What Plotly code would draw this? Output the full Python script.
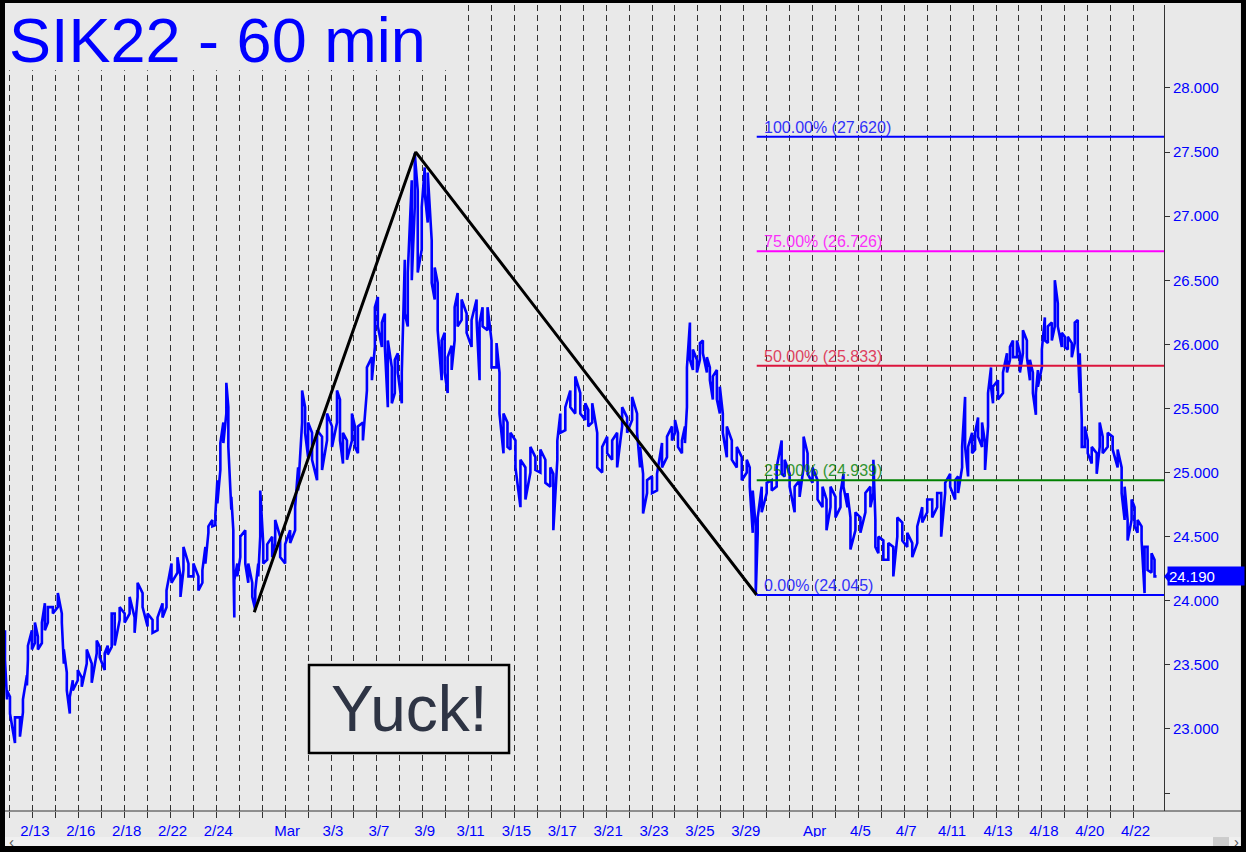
import plotly.graph_objects as go

# ---- data (hours since first session boundary, hi/lo of hourly trace) ----
hours = [-5, -3, 0, 5, 10, 13, 17, 18, 22, 25,
         28, 32, 35, 38, 43, 48, 52, 54, 57, 60,
         63, 68, 72, 77, 82, 87, 90, 95, 98, 102,
         105, 110, 115, 120, 125, 128, 133, 138, 143, 148,
         153, 157, 162, 168, 171, 174, 179, 184, 189, 193,
         196, 199, 203, 206, 208, 211, 214, 217, 219, 222,
         224, 225, 228, 231, 236, 239, 243, 246, 249, 251,
         254, 258, 263, 266, 271, 276, 281, 286, 289, 293,
         296, 299, 303, 308, 313, 318, 323, 328, 331, 334,
         338, 343, 346, 349, 354, 358, 363, 366, 369, 373,
         376, 379, 383, 386, 389, 393, 396, 399, 403, 406,
         409, 413, 416, 419, 423, 426, 429, 433, 436, 439,
         443, 446, 449, 453, 458, 463, 468, 471, 474, 479,
         483, 488, 491, 495, 499, 502, 507, 512, 517, 522,
         527, 532, 537, 542, 545, 549, 552, 557, 562, 567,
         572, 577, 580, 584, 589, 594, 599, 604, 609, 614,
         619, 624, 629, 632, 635, 639, 644, 649, 654, 659,
         664, 667, 670, 674, 677, 679, 682, 685, 689, 692,
         695, 699, 702, 705, 709, 712, 715, 719, 724, 729,
         734, 739, 742, 745, 748, 750, 754, 759, 764, 769,
         774, 777, 782, 787, 792, 796, 800, 805, 810, 815,
         819, 823, 828, 833, 836, 840, 843, 848, 853, 858,
         863, 866, 868, 871, 876, 881, 886, 890, 895, 900,
         905, 910, 915, 920, 925, 930, 934, 938, 943, 948,
         951, 955, 958, 961, 965, 968, 971, 975, 978, 981,
         984, 986, 991, 996, 1000, 1003, 1006, 1010, 1013, 1016,
         1020, 1023, 1026, 1029, 1031, 1035, 1038, 1041, 1045, 1048,
         1051, 1055, 1058, 1061, 1065, 1068, 1071, 1073, 1075, 1078,
         1081, 1085, 1090, 1093, 1096, 1101, 1106, 1111, 1115, 1118,
         1121, 1125, 1128, 1131, 1135, 1138, 1141, 1145, 1148, 1150]

highs = [23.77, 23.30, 23.25, 23.09, 23.09, 23.23, 23.42, 23.65, 23.77, 23.83,
         23.72, 23.83, 23.98, 23.95, 23.95, 24.06, 23.90, 23.62, 23.44, 23.25,
         23.38, 23.46, 23.40, 23.62, 23.51, 23.69, 23.64, 23.59, 23.65, 23.90,
         23.90, 23.95, 23.90, 24.03, 23.87, 24.14, 24.06, 23.90, 23.85, 23.87,
         23.98, 24.08, 24.29, 24.34, 24.19, 24.42, 24.29, 24.29, 24.19, 24.24,
         24.42, 24.58, 24.63, 24.67, 24.94, 25.23, 25.39, 25.70, 25.51, 24.81,
         24.55, 24.16, 24.29, 24.50, 24.55, 24.29, 24.14, 24.08, 24.29, 24.86,
         24.45, 24.44, 24.50, 24.63, 24.50, 24.44, 24.55, 24.73, 25.04, 25.64,
         25.51, 25.39, 25.31, 25.33, 25.28, 25.46, 25.36, 25.64, 25.57, 25.31,
         25.25, 25.46, 25.36, 25.36, 25.39, 25.82, 25.90, 26.29, 26.37, 26.17,
         26.24, 26.03, 25.82, 25.88, 25.93, 25.78, 26.66, 26.56, 27.28, 27.49,
         27.20, 27.07, 27.38, 27.34, 26.81, 26.60, 26.48, 26.03, 26.09, 25.90,
         25.99, 26.29, 26.40, 26.35, 26.24, 26.19, 26.35, 26.17, 26.29, 26.29,
         26.03, 26.01, 25.78, 25.46, 25.39, 25.31, 25.25, 25.10, 25.04, 25.20,
         25.12, 25.18, 25.10, 25.04, 24.99, 25.25, 25.46, 25.51, 25.64, 25.75,
         25.62, 25.54, 25.49, 25.54, 25.31, 25.20, 25.28, 25.25, 25.31, 25.51,
         25.43, 25.59, 25.46, 25.20, 24.99, 24.94, 24.97, 24.99, 25.23, 25.28,
         25.36, 25.41, 25.31, 25.25, 25.36, 25.82, 26.17, 25.96, 25.88, 26.01,
         26.03, 25.90, 25.82, 25.75, 25.80, 25.67, 25.46, 25.36, 25.25, 25.20,
         25.12, 25.10, 25.04, 24.86, 24.58, 24.65, 24.89, 24.92, 24.94, 25.04,
         25.25, 25.10, 24.99, 24.89, 24.94, 25.28, 25.15, 25.04, 24.94, 24.89,
         24.79, 24.89, 24.81, 24.84, 24.99, 24.84, 24.65, 24.69, 24.65, 24.84,
         24.89, 25.10, 24.63, 24.50, 24.47, 24.45, 24.42, 24.65, 24.61, 24.53,
         24.45, 24.58, 24.73, 24.79, 24.79, 24.84, 24.84, 24.92, 24.99, 24.94,
         24.97, 25.20, 25.59, 25.20, 25.31, 25.31, 25.43, 25.39, 25.23, 25.62,
         25.82, 25.67, 25.72, 25.78, 25.93, 25.98, 26.03, 26.03, 25.93, 26.11,
         26.03, 25.88, 25.78, 25.62, 25.80, 25.96, 26.21, 26.14, 26.17, 26.50,
         26.32, 26.09, 26.06, 26.06, 26.01, 26.17, 26.19, 25.93, 25.41, 25.36,
         25.25, 25.20, 25.15, 25.39, 25.28, 25.31, 25.28, 25.18, 25.04, 24.89,
         24.63, 24.79, 24.73, 24.63, 24.58, 24.42, 24.42, 24.37, 24.32, 24.19]

lows = [23.54, 23.23, 23.12, 22.89, 22.94, 23.13, 23.34, 23.54, 23.62, 23.67,
        23.62, 23.67, 23.77, 23.83, 23.90, 23.95, 23.83, 23.51, 23.30, 23.12,
        23.30, 23.38, 23.33, 23.51, 23.36, 23.59, 23.56, 23.46, 23.58, 23.64,
        23.65, 23.85, 23.83, 23.90, 23.75, 24.03, 23.95, 23.80, 23.75, 23.77,
        23.87, 23.95, 24.14, 24.22, 24.03, 24.24, 24.19, 24.19, 24.08, 24.14,
        24.29, 24.53, 24.58, 24.59, 24.76, 25.02, 25.23, 25.46, 25.20, 24.71,
        24.32, 23.87, 24.19, 24.34, 24.29, 24.14, 24.03, 23.93, 24.19, 24.50,
        24.29, 24.32, 24.34, 24.45, 24.34, 24.29, 24.45, 24.55, 24.86, 25.39,
        25.31, 25.12, 25.10, 24.94, 25.02, 25.25, 25.20, 25.39, 25.25, 25.07,
        25.10, 25.25, 25.20, 25.15, 25.25, 25.64, 25.72, 25.98, 26.14, 25.98,
        25.98, 25.51, 25.54, 25.62, 25.78, 25.54, 26.24, 26.14, 26.50, 27.07,
        26.56, 26.74, 27.18, 26.95, 26.48, 26.35, 26.11, 25.72, 25.78, 25.62,
        25.80, 26.03, 26.14, 26.19, 26.09, 25.98, 26.19, 25.72, 26.14, 26.11,
        25.82, 25.82, 25.46, 25.15, 25.20, 25.18, 25.04, 24.73, 24.79, 25.00,
        25.02, 25.00, 24.92, 24.89, 24.55, 25.10, 25.31, 25.33, 25.51, 25.46,
        25.46, 25.41, 25.36, 25.39, 25.04, 25.00, 25.15, 25.10, 25.04, 25.36,
        25.31, 25.41, 25.31, 25.04, 24.68, 24.84, 24.84, 24.86, 25.04, 25.12,
        25.25, 25.31, 25.20, 25.15, 25.23, 25.51, 25.88, 25.80, 25.78, 25.88,
        25.93, 25.78, 25.72, 25.57, 25.57, 25.46, 25.31, 25.12, 25.10, 25.04,
        24.94, 25.00, 24.89, 24.53, 24.05, 24.53, 24.69, 24.84, 24.86, 24.89,
        24.99, 24.97, 24.89, 24.69, 24.81, 25.04, 24.99, 24.92, 24.79, 24.73,
        24.55, 24.73, 24.65, 24.73, 24.89, 24.73, 24.40, 24.55, 24.53, 24.69,
        24.73, 24.84, 24.42, 24.37, 24.32, 24.32, 24.19, 24.50, 24.47, 24.42,
        24.34, 24.45, 24.61, 24.69, 24.65, 24.73, 24.50, 24.84, 24.89, 24.79,
        24.84, 25.04, 25.20, 24.97, 25.15, 25.18, 25.28, 25.20, 25.02, 25.36,
        25.67, 25.54, 25.57, 25.62, 25.78, 25.88, 25.90, 25.90, 25.78, 25.93,
        25.90, 25.72, 25.62, 25.45, 25.67, 25.82, 26.03, 26.01, 26.03, 26.14,
        26.14, 25.98, 25.98, 25.96, 25.90, 26.01, 25.98, 25.62, 25.20, 25.20,
        25.15, 25.07, 24.99, 25.20, 25.15, 25.20, 25.18, 25.04, 24.84, 24.63,
        24.47, 24.63, 24.58, 24.53, 24.47, 24.06, 24.24, 24.22, 24.19, 24.19]

last_price = 24.190

# ABC swing (hours, price)
abc_hours = [245, 407, 749]
abc_prices = [23.91, 27.50, 24.045]

# Fibonacci levels
fib_start = 749
fib_levels = [24.045, 24.939, 25.833, 26.726, 27.620]
fib_labels = ["0.00% (24.045)", "25.00% (24.939)", "50.00% (25.833)",
              "75.00% (26.726)", "100.00% (27.620)"]
fib_colors = ["#0000ff", "#008000", "#dc143c", "#ff00ff", "#0000ff"]

# x axis: one gridline per session (23 hours)
session_hours = 23
n_sessions = 50
date_labels = {1: "2/13", 3: "2/16", 5: "2/18", 7: "2/22", 9: "2/24",
               12: "Mar", 14: "3/3", 16: "3/7", 18: "3/9", 20: "3/11",
               22: "3/15", 24: "3/17", 26: "3/21", 28: "3/23", 30: "3/25",
               32: "3/29", 35: "Apr", 37: "4/5", 39: "4/7", 41: "4/11",
               43: "4/13", 45: "4/18", 47: "4/20", 49: "4/22"}

y_ticks = [22.5, 23.0, 23.5, 24.0, 24.5, 25.0, 25.5, 26.0, 26.5, 27.0, 27.5, 28.0]

# ---- build ----
BG = "#e9e9e9"
FONT = "Liberation Sans, Arial, sans-serif"

xs, ys = [], []
for k, (h, hi, lo) in enumerate(zip(hours, highs, lows)):
    if k % 2 == 0:
        xs += [h, h]
        ys += [hi, lo]
    else:
        xs += [h, h]
        ys += [lo, hi]

fig = go.Figure()
fig.add_trace(go.Scatter(x=xs, y=ys, mode="lines",
                         line=dict(color="#0000ff", width=2.6), hoverinfo="skip"))
fig.add_trace(go.Scatter(x=abc_hours, y=abc_prices, mode="lines",
                         line=dict(color="black", width=3), hoverinfo="skip"))

x_max = 1157.5
shapes = []
annotations = []
for lvl, lab, col in zip(fib_levels, fib_labels, fib_colors):
    shapes.append(dict(type="line", xref="x", yref="y", x0=fib_start, x1=x_max,
                       y0=lvl, y1=lvl, line=dict(color=col, width=2), layer="above"))
    annotations.append(dict(x=fib_start, y=lvl, xref="x", yref="y", text=lab,
                            showarrow=False, xanchor="left", yanchor="bottom",
                            xshift=5, yshift=-1, opacity=0.8,
                            font=dict(family=FONT, size=16, color=col)))

# title background box covering grid
shapes.append(dict(type="rect", xref="paper", yref="paper", x0=0, x1=0.386,
                   y0=0.919, y1=1.0, fillcolor=BG, line=dict(width=0), layer="above"))
annotations.append(dict(xref="paper", yref="paper", x=0.0017, y=0.957,
                        xanchor="left", yanchor="middle", showarrow=False,
                        text="SIK22 - 60 min",
                        font=dict(family=FONT, size=63, color="#0000ff")))

# Yuck box
shapes.append(dict(type="rect", xref="paper", yref="paper", x0=0.2623, x1=0.4349,
                   y0=0.072, y1=0.1811, fillcolor=BG,
                   line=dict(color="black", width=2.5), layer="above"))
annotations.append(dict(xref="paper", yref="paper", x=0.3486, y=0.1265,
                        xanchor="center", yanchor="middle", showarrow=False,
                        text="Yuck!", font=dict(family=FONT, size=64, color="#2e3444")))

# last price tag
annotations.append(dict(xref="paper", yref="y", x=1.0, y=last_price, xanchor="left",
                        yanchor="middle", showarrow=False, xshift=3,
                        text=f"{last_price:.3f}", bgcolor="#0000ff", width=74,
                        height=16, align="left", borderpad=1,
                        font=dict(family=FONT, size=15, color="white")))
shapes.append(dict(type="path", xref="paper", yref="paper",
                   path="M 1.0,0.291 L 1.0061,0.3012 L 1.0061,0.2808 Z",
                   fillcolor="#0000ff", line=dict(width=0)))

# outer frame + bottom strip
shapes += [
    dict(type="line", xref="paper", yref="paper", x0=0, x1=1.068, y0=0, y1=0,
         line=dict(color="#333", width=1)),
    dict(type="rect", xref="paper", yref="paper", x0=-0.01, x1=1.08, y0=-0.0323, y1=-0.0434,
         fillcolor="#f0f0f0", line=dict(width=0)),
    dict(type="rect", xref="paper", yref="paper", x0=1.0423, x1=1.0561, y0=-0.0323, y1=-0.0434,
         fillcolor="#cccccc", line=dict(width=0)),
    dict(type="rect", xref="paper", yref="paper", x0=-0.01, x1=0, y0=-0.06, y1=1.01,
         fillcolor="black", line=dict(width=0)),
    dict(type="rect", xref="paper", yref="paper", x0=1.0664, x1=1.08, y0=-0.06, y1=1.01,
         fillcolor="black", line=dict(width=0)),
    dict(type="rect", xref="paper", yref="paper", x0=-0.01, x1=1.08, y0=1.0025, y1=1.01,
         fillcolor="black", line=dict(width=0)),
    dict(type="rect", xref="paper", yref="paper", x0=-0.01, x1=1.08, y0=-0.0435, y1=-0.06,
         fillcolor="black", line=dict(width=0)),
]
annotations.append(dict(xref="paper", yref="paper", x=0.002, y=-0.038, xanchor="left",
                        yanchor="middle", showarrow=False, text="‹",
                        font=dict(family=FONT, size=15, color="#555")))
annotations.append(dict(xref="paper", yref="paper", x=1.0625, y=-0.038, xanchor="center",
                        yanchor="middle", showarrow=False, text="›",
                        font=dict(family=FONT, size=15, color="#555")))

tickvals = [session_hours * i for i in range(n_sessions)]
ticktext = [date_labels.get(i, "") for i in range(n_sessions)]

fig.update_layout(
    width=1246, height=852,
    margin=dict(l=5, r=82, t=5, b=41),
    paper_bgcolor=BG, plot_bgcolor=BG,
    showlegend=False,
    shapes=shapes, annotations=annotations,
    xaxis=dict(range=[-5, x_max], tickvals=tickvals, ticktext=ticktext,
               showgrid=True, gridcolor="#333333", griddash="6px,4px", gridwidth=1,
               ticks="outside", ticklen=6, tickcolor="#333", showline=False,
               zeroline=False, ticklabelshift=2,
               tickfont=dict(family=FONT, size=15, color="#0000ff")),
    yaxis=dict(range=[22.36, 28.647], side="right", tickvals=y_ticks,
               ticktext=["" if v == 22.5 else f"{v:.3f}" for v in y_ticks],
               showgrid=False, zeroline=False, ticks="outside", ticklen=5,
               tickcolor="#333", showline=True, linecolor="#333", linewidth=1,
               tickfont=dict(family=FONT, size=15, color="#0000ff")),
)

fig.write_html("out.html", config={"displayModeBar": False},
               post_script="document.body.style.margin='0';document.body.style.overflow='hidden';")
